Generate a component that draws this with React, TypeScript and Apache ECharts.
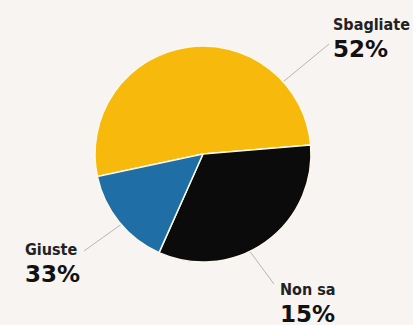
import React, { useEffect, useRef } from "react";
import * as echarts from "echarts";

// Data
const categories = ["Sbagliate", "Non sa", "Giuste"];
const sliceValues = [52, 33, 15]; // visual slice sizes
const printedPercents = ["52%", "15%", "33%"]; // texts printed next to the slices
const sliceColors = ["#f6b90c", "#0b0b0b", "#1f6ea6"];

const CX = 203;
const CY = 154;
const R = 108;
// label text box top-left and leader line anchor angle (degrees, math convention)
const labelPos = [
  { x: 333, y: 13, angle: 42, end: [329, 44] },
  { x: 280, y: 278, angle: 295.7, end: [274, 284] },
  { x: 25, y: 238, angle: 220.7, end: [84, 251] },
];

export default function App() {
  const ref = useRef<HTMLDivElement>(null);
  useEffect(() => {
    if (!ref.current) return;
    const chart = echarts.init(ref.current, undefined, { renderer: "svg" });
    chart.setOption({
      animation: false,
      backgroundColor: "#f7f4f1",
      series: [
        {
          type: "pie",
          center: [CX, CY],
          radius: R,
          startAngle: 192,
          clockwise: true,
          silent: true,
          itemStyle: { borderColor: "#fdf8e8", borderWidth: 1.5 },
          data: categories.map((name, i) => ({
            name,
            value: sliceValues[i],
            itemStyle: { color: sliceColors[i] },
          })),
          label: {
            show: true,
            formatter: (p: any) => `{n|${p.name}}\n{v|${printedPercents[p.dataIndex]}}`,
            rich: {
              n: {
                fontFamily: "DejaVu Sans Condensed",
                fontWeight: "bold",
                fontSize: 16,
                lineHeight: 23,
                color: "#222222",
              },
              v: {
                fontFamily: "DejaVu Sans",
                fontWeight: "bold",
                fontSize: 23,
                lineHeight: 25,
                color: "#111111",
              },
            },
          },
          labelLine: {
            show: true,
            lineStyle: { color: "#b9b5b0", width: 1 },
          },
          labelLayout: (params: any) => {
            const lp = labelPos[params.dataIndex];
            const a = (lp.angle * Math.PI) / 180;
            const sx = CX + R * Math.cos(a);
            const sy = CY - R * Math.sin(a);
            const [ex, ey] = lp.end;
            return {
              x: lp.x,
              y: lp.y,
              align: "left",
              verticalAlign: "top",
              labelLinePoints: [
                [sx, sy],
                [(sx + ex) / 2, (sy + ey) / 2],
                [ex, ey],
              ],
            };
          },
        },
      ],
    });
    return () => chart.dispose();
  }, []);
  return (
    <div
      ref={ref}
      style={{ position: "absolute", left: 0, top: 0, width: 413, height: 325 }}
    />
  );
}
